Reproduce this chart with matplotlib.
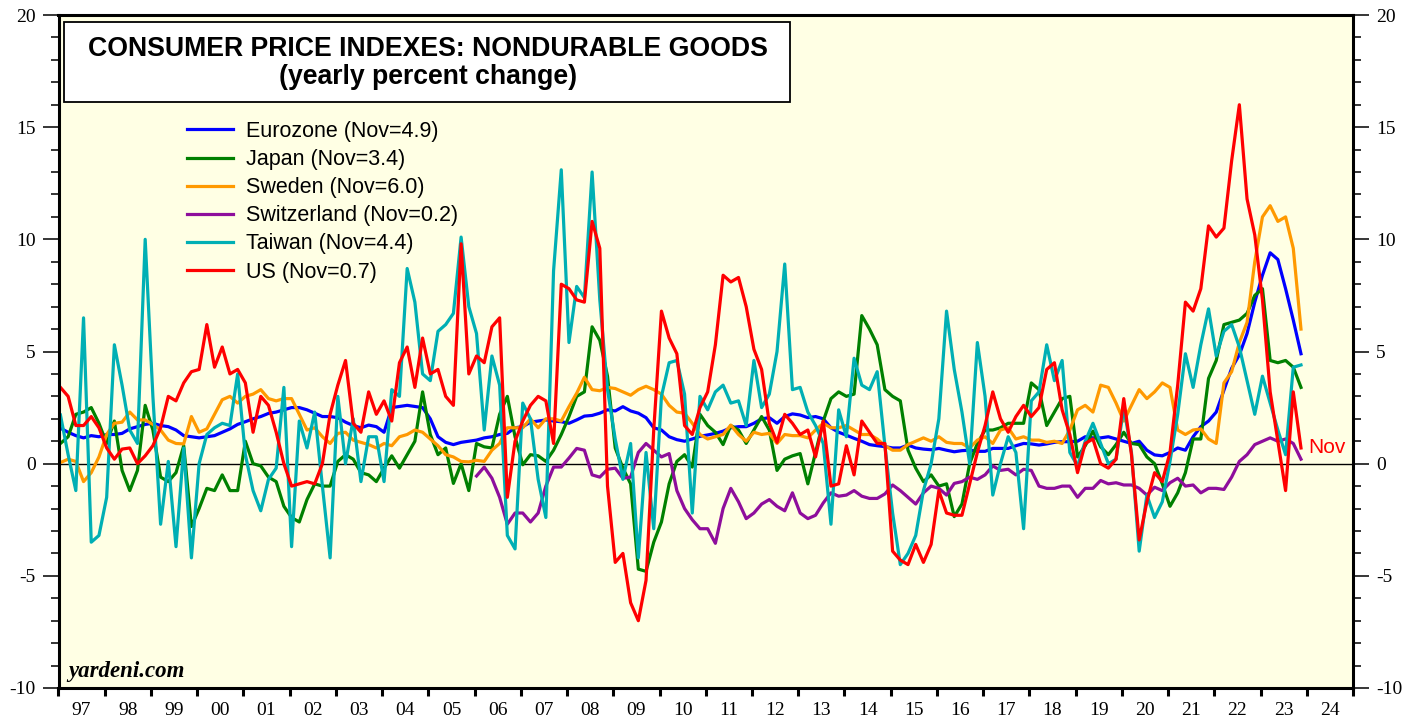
import numpy as np
import matplotlib
matplotlib.use("Agg")
import matplotlib.pyplot as plt
from matplotlib.patches import Rectangle
from matplotlib.ticker import MultipleLocator, FixedLocator, NullFormatter, FixedFormatter

plt.rcParams['font.family'] = ['Liberation Serif', 'DejaVu Serif']
plt.rcParams['axes.unicode_minus'] = False

# ---- data: bimonthly readings (Jan, Mar, May, Jul, Sep, Nov), Jan 1997 - Nov 2023 ----
eurozone = [
    1.58, 1.4, 1.25, 1.15, 1.25, 1.2,
    1.3, 1.3, 1.35, 1.55, 1.65, 1.75,
    1.8, 1.7, 1.65, 1.5, 1.25, 1.2,
    1.15, 1.2, 1.25, 1.4, 1.55, 1.75,
    1.87, 2.0, 2.1, 2.24, 2.3, 2.4,
    2.5, 2.5, 2.4, 2.25, 2.1, 2.1,
    2.05, 1.85, 1.7, 1.6, 1.72, 1.65,
    1.4, 2.5, 2.55, 2.6, 2.55, 2.5,
    2.0, 1.2, 0.95, 0.85, 0.95, 1.0,
    1.05, 1.15, 1.2, 1.3, 1.35, 1.6,
    1.65, 1.85, 1.9, 1.95, 1.9, 1.87,
    1.8, 1.95, 2.12, 2.15, 2.25, 2.4,
    2.35, 2.54, 2.35, 2.25, 2.05, 1.6,
    1.5, 1.2, 1.07, 1.0, 1.1, 1.22,
    1.28, 1.35, 1.45, 1.6, 1.65, 1.65,
    1.8, 2.0, 2.05, 1.8, 2.1, 2.22,
    2.17, 2.05, 2.1, 2.0, 1.6, 1.4,
    1.27, 1.13, 1.0, 0.85, 0.8, 0.76,
    0.7, 0.7, 0.83, 0.7, 0.65, 0.62,
    0.68, 0.6, 0.53, 0.58, 0.6, 0.55,
    0.55, 0.68, 0.68, 0.68, 0.8, 0.9,
    0.88, 0.83, 0.88, 0.95, 0.98, 0.98,
    1.0, 1.2, 1.15, 1.15, 1.2, 1.1,
    1.0, 0.9, 1.0, 0.6, 0.39, 0.35,
    0.5, 0.7, 0.6, 1.2, 1.65, 1.9,
    2.3, 3.28, 4.25, 4.85, 5.8, 7.2,
    8.4, 9.4, 9.1, 7.8, 6.4, 4.9,
]

japan = [
    0.9, 1.2, 2.2, 2.3, 2.5, 1.8,
    0.9, 1.9, -0.3, -1.2, -0.3, 2.6,
    1.5, -0.6, -0.8, -0.4, 0.8, -2.8,
    -2.0, -1.1, -1.2, -0.5, -1.2, -1.2,
    1.0, 0.0, -0.1, -0.6, -0.8, -1.9,
    -2.4, -2.6, -1.6, -0.9, -1.0, -1.0,
    0.1, 0.4, 0.2, -0.4, -0.5, -0.8,
    -0.2, 0.35, -0.2, 0.4, 1.0, 3.2,
    1.3, 0.4, 0.7, -0.88, 0.0, -1.2,
    0.9, 0.75, 0.7, 2.2, 3.0, 1.2,
    -0.05, 0.4, 0.35, 0.1, 0.6, 1.3,
    2.1, 3.0, 3.2, 6.1, 5.5, 3.9,
    0.7, -0.2, -0.9, -4.7, -4.8, -3.5,
    -2.6, -0.9, 0.1, 0.4, -0.15, 2.2,
    1.7, 1.4, 0.85, 1.7, 1.5, 0.9,
    1.5, 2.1, 1.5, -0.3, 0.2, 0.35,
    0.45, -0.9, 0.5, 1.9, 2.9, 3.2,
    3.0, 3.1, 6.6, 6.0, 5.3, 3.3,
    3.0, 2.8, 0.6, -0.2, -0.8, -0.5,
    -1.0, -0.9, -2.36, -1.8, 0.0, 0.9,
    1.5, 1.5, 1.6, 1.8, 1.8, 1.8,
    3.6, 3.3, 1.7, 2.3, 2.9, 3.0,
    0.3, 0.8, 1.45, 0.75, 0.4, 0.85,
    1.4, 0.9, 0.85, 0.3, 0.0, -0.9,
    -1.9, -1.3, -0.4, 1.1, 1.1, 3.8,
    4.6, 6.2, 6.3, 6.4, 6.7, 7.5,
    7.8, 4.6, 4.5, 4.6, 4.3, 3.4,
]

sweden = [
    0.05, 0.2, 0.1, -0.8, -0.4, 0.3,
    1.3, 1.8, 1.85, 2.3, 1.95, 1.95,
    1.75, 1.5, 1.05, 0.9, 0.88, 2.1,
    1.4, 1.55, 2.2, 2.85, 3.0, 2.7,
    3.0, 3.1, 3.3, 2.9, 2.8, 2.9,
    2.9, 2.2, 1.5, 1.6, 1.2, 0.9,
    1.35, 1.4, 1.05, 0.95, 0.85, 0.7,
    0.9, 0.8, 1.2, 1.3, 1.5, 1.4,
    1.1, 0.8, 0.4, 0.3, 0.1, 0.08,
    0.15, 0.1, 0.6, 0.9, 1.6, 1.6,
    1.6, 2.0, 1.6, 2.0, 2.0, 1.9,
    2.54, 3.14, 3.85, 3.3, 3.25, 3.4,
    3.35, 3.2, 3.05, 3.3, 3.45, 3.3,
    3.1, 2.6, 2.3, 2.25, 1.8, 1.3,
    1.1, 1.2, 1.3, 1.72, 1.3, 1.0,
    1.4, 1.3, 1.35, 0.9, 1.3, 1.25,
    1.25, 1.15, 1.5, 1.8, 1.6, 1.6,
    1.7, 1.5, 1.3, 1.3, 1.1, 0.8,
    0.6, 0.6, 0.85, 1.0, 1.15, 1.0,
    1.2, 0.95, 0.9, 0.9, 0.7, 1.05,
    1.2, 0.9, 1.5, 1.6, 1.1, 1.2,
    1.05, 1.05, 0.95, 1.0, 0.9, 1.5,
    2.4, 2.6, 2.3, 3.5, 3.4, 2.7,
    1.9, 2.6, 3.3, 2.9, 3.2, 3.6,
    3.4, 1.5, 1.3, 1.5, 1.55, 1.1,
    0.9, 3.6, 4.1, 5.4, 6.3, 9.0,
    11.0, 11.5, 10.8, 11.0, 9.6, 6.0,
]

# Switzerland starts Jan 2006
switzerland = [
    -0.55, -0.15, -0.65, -1.5, -2.7, -2.2,
    -2.2, -2.6, -2.2, -1.0, -0.15, -0.15,
    0.25, 0.68, 0.6, -0.5, -0.6, -0.25,
    -0.2, -0.65, -0.6, 0.5, 0.9, 0.6,
    0.3, 0.45, -1.2, -2.0, -2.5, -2.9,
    -2.9, -3.55, -2.0, -1.1, -1.7, -2.45,
    -2.2, -1.8, -1.6, -1.9, -2.1, -1.3,
    -2.2, -2.45, -2.3, -1.75, -1.3, -1.45,
    -1.4, -1.2, -1.45, -1.55, -1.55, -1.35,
    -0.95, -1.2, -1.5, -1.8, -1.3, -1.0,
    -1.1, -1.4, -0.88, -0.8, -0.6, -0.7,
    -0.5, -0.1, -0.3, -0.25, -0.5, -0.25,
    -0.3, -1.0, -1.1, -1.1, -1.0, -1.0,
    -1.5, -1.1, -1.1, -0.75, -0.9, -0.85,
    -0.95, -0.95, -1.1, -1.4, -1.05, -1.2,
    -0.85, -0.65, -1.0, -0.95, -1.3, -1.1,
    -1.1, -1.15, -0.6, 0.1, 0.4, 0.85,
    1.0, 1.15, 1.0, 1.1, 0.9, 0.2,
]

taiwan = [
    2.17, 0.4, -1.2, 6.5, -3.5, -3.2,
    -1.5, 5.3, 3.5, 1.5, 0.9, 10.0,
    3.0, -2.7, 0.1, -3.7, 0.7, -4.2,
    0.0, 1.3, 1.6, 1.8, 1.7, 4.0,
    0.4, -1.2, -2.1, -0.7, -0.2, 3.4,
    -3.7, 1.9, 0.7, 2.3, -1.0, -4.2,
    3.0, 0.0, 2.0, -0.8, 1.2, 1.2,
    -0.8, 3.3, 3.0, 8.7, 7.2, 4.0,
    3.7, 5.9, 6.2, 6.7, 10.1, 7.0,
    5.8, 1.5, 4.8, 3.5, -3.2, -3.8,
    2.7, 2.0, -0.7, -2.4, 8.6, 13.1,
    5.4, 7.9, 7.4, 13.0, 7.3, 3.3,
    1.1, -0.7, 0.9, -4.2, 0.5, -2.9,
    3.0, 4.5, 4.6, 3.1, -2.2, 3.0,
    2.4, 3.2, 3.5, 2.7, 2.8, 1.7,
    4.6, 2.5, 3.1, 5.0, 8.9, 3.3,
    3.4, 2.3, 1.7, 0.9, -2.7, 2.4,
    1.2, 4.7, 3.5, 3.3, 4.1, 0.8,
    -2.2, -4.5, -4.0, -3.2, -1.2, 0.0,
    2.0, 6.8, 4.2, 2.3, 0.0, 5.4,
    3.0, -1.4, 0.0, 1.2, 0.5, -2.9,
    2.8, 3.2, 5.3, 3.7, 4.6, 0.5,
    -0.1, 1.0, 1.8, 0.9, 0.0, 0.2,
    2.5, 0.5, -3.9, -1.4, -2.4, -1.7,
    0.1, 2.2, 4.9, 3.4, 5.3, 6.9,
    4.8, 5.9, 6.2, 5.2, 3.7, 2.2,
    3.9, 2.7, 1.5, 0.4, 4.3, 4.4,
]

us = [
    3.4, 3.0, 1.7, 1.7, 2.1, 1.6,
    0.7, 0.2, 0.65, 0.7, 0.0, 0.35,
    0.8, 1.6, 3.0, 2.8, 3.6, 4.1,
    4.2, 6.2, 4.3, 5.2, 4.0, 4.2,
    3.6, 1.4, 3.0, 2.6, 1.4, 0.0,
    -1.0, -0.9, -0.8, -0.9, 0.0, 2.2,
    3.5, 4.6, 1.8, 1.4, 3.2, 2.2,
    2.8, 1.9, 4.5, 5.2, 3.4, 5.6,
    4.0, 4.2, 3.0, 2.6, 9.8, 4.0,
    4.8, 4.5, 6.1, 6.5, -1.5, 1.0,
    1.9, 2.6, 3.0, 2.8, 0.9, 8.0,
    7.8, 7.3, 7.2, 10.8, 9.6, -1.0,
    -4.4, -4.0, -6.2, -7.0, -5.2, 1.5,
    6.8, 5.6, 4.9, 1.7, 1.3, 2.5,
    3.2, 5.3, 8.4, 8.1, 8.3, 7.0,
    5.1, 4.2, 1.8, 0.95, 2.2, 1.8,
    1.3, 1.5, 0.3, 1.9, -1.0, -0.9,
    0.8, -0.5, 1.9, 1.4, 0.9, 0.9,
    -3.9, -4.3, -4.5, -3.6, -4.4, -3.6,
    -1.2, -2.2, -2.3, -2.3, -0.9, 0.5,
    1.7, 3.2, 2.0, 1.4, 2.1, 2.6,
    2.1, 2.5, 4.2, 4.5, 2.4, 1.3,
    -0.4, 0.9, 1.1, 0.0, -0.2, 0.2,
    2.9, 0.4, -3.4, -1.7, -0.4, -0.8,
    0.5, 3.5, 7.2, 6.8, 7.8, 10.6,
    10.1, 10.5, 13.5, 16.0, 11.8, 10.2,
    7.3, 3.2, 1.0, -1.2, 3.2, 0.7,
]

series_names = ["Eurozone", "Japan", "Sweden", "Switzerland", "Taiwan", "US"]
series_colors = ["#0000FF", "#008000", "#FF9900", "#8E0E9C", "#00AFB4", "#FF0000"]
year_labels = ["%02d" % (y % 100) for y in range(1997, 2025)]

# monthly positions of the bimonthly readings
dates = 1997 + (np.arange(len(us)) * 2 + 0.5) / 12.0
swiss_dates = dates[len(us) - len(switzerland):]
all_values = [eurozone, japan, sweden, switzerland, taiwan, us]
all_dates = [dates, dates, dates, swiss_dates, dates, dates]

W, H = 1419, 719
fig = plt.figure(figsize=(W / 100, H / 100), dpi=100)
fig.patch.set_facecolor("white")
ax = fig.add_axes([58.5 / W, 31 / H, 1294.5 / W, 673 / H])
ax.set_facecolor("#FFFFE4")
ax.set_xlim(1997, 2025)
ax.set_ylim(-10, 20)

ax.axhline(0, color="black", lw=1.0, zorder=1)

for name, vals, d, col in zip(series_names, all_values, all_dates, series_colors):
    ax.plot(d, vals, color=col, lw=2.3, solid_joinstyle="round",
            label="%s (Nov=%.1f)" % (name, vals[-1]), zorder=2)

# y axis ticks on both sides
ax.yaxis.set_major_locator(MultipleLocator(5))
ax.yaxis.set_minor_locator(MultipleLocator(1))
ax.tick_params(axis="y", which="both", direction="out", left=True, right=True,
               labelleft=True, labelright=True)
ax.tick_params(axis="y", which="major", length=11.5, width=1.1, labelsize=14, pad=5)
ax.tick_params(axis="y", which="minor", length=5.8, width=1.1)

# x axis: year boundary ticks, labels centered in each year
ax.xaxis.set_major_locator(FixedLocator(np.arange(1997, 2026)))
ax.xaxis.set_major_formatter(NullFormatter())
ax.xaxis.set_minor_locator(FixedLocator(np.arange(1997, 2025) + 0.5))
ax.xaxis.set_minor_formatter(FixedFormatter(year_labels))
ax.tick_params(axis="x", which="major", direction="out", length=6, width=2.2)
ax.tick_params(axis="x", which="minor", length=0, labelsize=14, pad=10)

for s in ax.spines.values():
    s.set_linewidth(2.2)
    s.set_color("black")

# title box
fig.add_artist(Rectangle((64 / W, 1 - 102 / H), (790 - 64) / W, (102 - 22) / H,
                         transform=fig.transFigure, facecolor="white",
                         edgecolor="black", lw=1.3, zorder=5))
fig.text(428 / W, 1 - 49 / H, "CONSUMER PRICE INDEXES: NONDURABLE GOODS",
         ha="center", va="center", fontsize=19.2, fontweight="bold",
         family="Liberation Sans", zorder=6)
fig.text(428 / W, 1 - 77 / H, "(yearly percent change)",
         ha="center", va="center", fontsize=19.2, fontweight="bold",
         family="Liberation Sans", zorder=6)

leg = ax.legend(loc="upper left", bbox_to_anchor=(187 / W, 1 - 121 / H),
                bbox_transform=fig.transFigure, frameon=False,
                prop={"family": "Liberation Sans", "size": 15.5},
                handlelength=2.15, handletextpad=0.6, labelspacing=0.33,
                borderpad=0, borderaxespad=0)
for line in leg.get_lines():
    line.set_linewidth(2.3)

fig.text(68 / W, 1 - 672 / H, "yardeni.com", ha="left", va="center",
         fontsize=16.5, fontweight="bold", style="italic", family="Liberation Serif")

ax.text(dates[-1] + 0.15, us[-1], "Nov", color="red", fontsize=15,
        family="Liberation Sans", ha="left", va="center")

fig.savefig("out.png", dpi=100)
